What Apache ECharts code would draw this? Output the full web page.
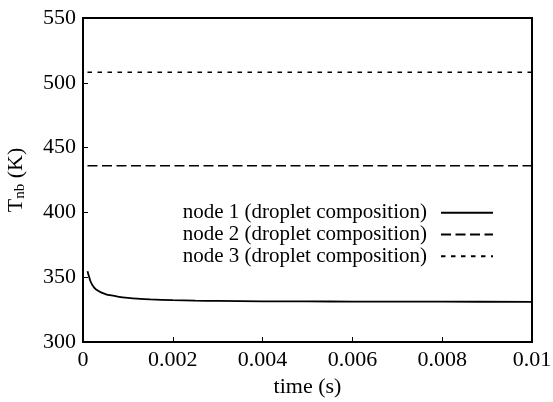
<!DOCTYPE html>
<html>
<head>
<meta charset="utf-8">
<script src="https://cdn.jsdelivr.net/npm/echarts@6/dist/echarts.min.js"></script>
<style>
  html, body { margin: 0; padding: 0; background: #fff; }
  #chart { width: 553px; height: 402px; }
</style>
</head>
<body>
<div id="chart"></div>
<script>
// Nucleate-boiling temperature at each node versus time
const seriesNames = [
  'node 1 (droplet composition)',
  'node 2 (droplet composition)',
  'node 3 (droplet composition)'
];
const node1Time = [0.0001, 0.00013, 0.00016, 0.0002, 0.00025, 0.0003, 0.0004, 0.0005, 0.0006, 0.0008,
                   0.001, 0.0012, 0.0015, 0.002, 0.0025, 0.003, 0.004, 0.005, 0.006, 0.008, 0.01];
const node1Temp = [354.5, 351, 347.5, 344.5, 342, 340.3, 338.3, 337, 336.1, 334.9,
                   334.1, 333.5, 332.9, 332.3, 331.9, 331.7, 331.4, 331.3, 331.2, 331.1, 331];
const node2Time = [0.0001, 0.01];
const node2Temp = [436, 436];
const node3Time = [0.0001, 0.01];
const node3Temp = [508.2, 508.2];
const xTicks = { min: 0, max: 0.01, interval: 0.002 };
const yTicks = { min: 300, max: 550, interval: 50 };

const pair = (xs, ys) => xs.map((x, i) => [x, ys[i]]);
const font = 'Liberation Serif';

const chart = echarts.init(document.getElementById('chart'), null, { renderer: 'canvas' });
chart.setOption({
  animation: false,
  backgroundColor: '#fff',
  textStyle: { fontFamily: font, color: '#000' },
  grid: {
    left: 83, top: 18, right: 21, bottom: 60, containLabel: false, outerBoundsMode: 'none',
    show: true, borderColor: '#000', borderWidth: 2, backgroundColor: 'transparent'
  },
  legend: {
    right: 54, top: 197, orient: 'vertical', align: 'right',
    itemWidth: 52, itemHeight: 10, itemGap: 0,
    itemStyle: { opacity: 0 },
    textStyle: { fontFamily: font, fontSize: 21, color: '#000', lineHeight: 21.7, padding: [0, 9, 0, 0] },
    data: seriesNames
  },
  xAxis: {
    type: 'value', min: xTicks.min, max: xTicks.max, interval: xTicks.interval,
    name: 'time (s)', nameLocation: 'middle', nameGap: 30,
    nameTextStyle: { fontFamily: font, fontSize: 22, color: '#000' },
    axisLine: { show: true, onZero: false, lineStyle: { color: '#000', width: 2 } },
    axisTick: { show: true, inside: true, length: 5, lineStyle: { color: '#000', width: 1 } },
    axisLabel: { fontFamily: font, fontSize: 22, color: '#000', margin: 7,
                 formatter: v => String(+v.toFixed(4)) },
    splitLine: { show: false }
  },
  yAxis: {
    type: 'value', min: yTicks.min, max: yTicks.max, interval: yTicks.interval,
    name: '{t|T}{s|nb}{t| (K)}', nameLocation: 'middle', nameGap: 55, nameRotate: 90,
    nameTextStyle: {
      fontFamily: font, color: '#000',
      rich: {
        t: { fontFamily: font, fontSize: 22, color: '#000' },
        s: { fontFamily: font, fontSize: 15, color: '#000', verticalAlign: 'bottom', padding: [8, 0, 0, 0] }
      }
    },
    axisLine: { show: true, lineStyle: { color: '#000', width: 2 } },
    axisTick: { show: true, inside: true, length: 5, lineStyle: { color: '#000', width: 1 } },
    axisLabel: { fontFamily: font, fontSize: 22, color: '#000', margin: 7 },
    splitLine: { show: false }
  },
  series: [
    {
      name: seriesNames[0], type: 'line', data: pair(node1Time, node1Temp),
      symbol: 'none', smooth: 0.3, color: '#000',
      lineStyle: { color: '#000', width: 1.8, type: 'solid' }
    },
    {
      name: seriesNames[1], type: 'line', data: pair(node2Time, node2Temp),
      symbol: 'none', color: '#000',
      lineStyle: { color: '#000', width: 1.5, type: [10, 4.5] }
    },
    {
      name: seriesNames[2], type: 'line', data: pair(node3Time, node3Temp),
      symbol: 'none', color: '#000',
      lineStyle: { color: '#000', width: 1.5, type: [4.5, 5.5] }
    }
  ]
});
</script>
</body>
</html>
